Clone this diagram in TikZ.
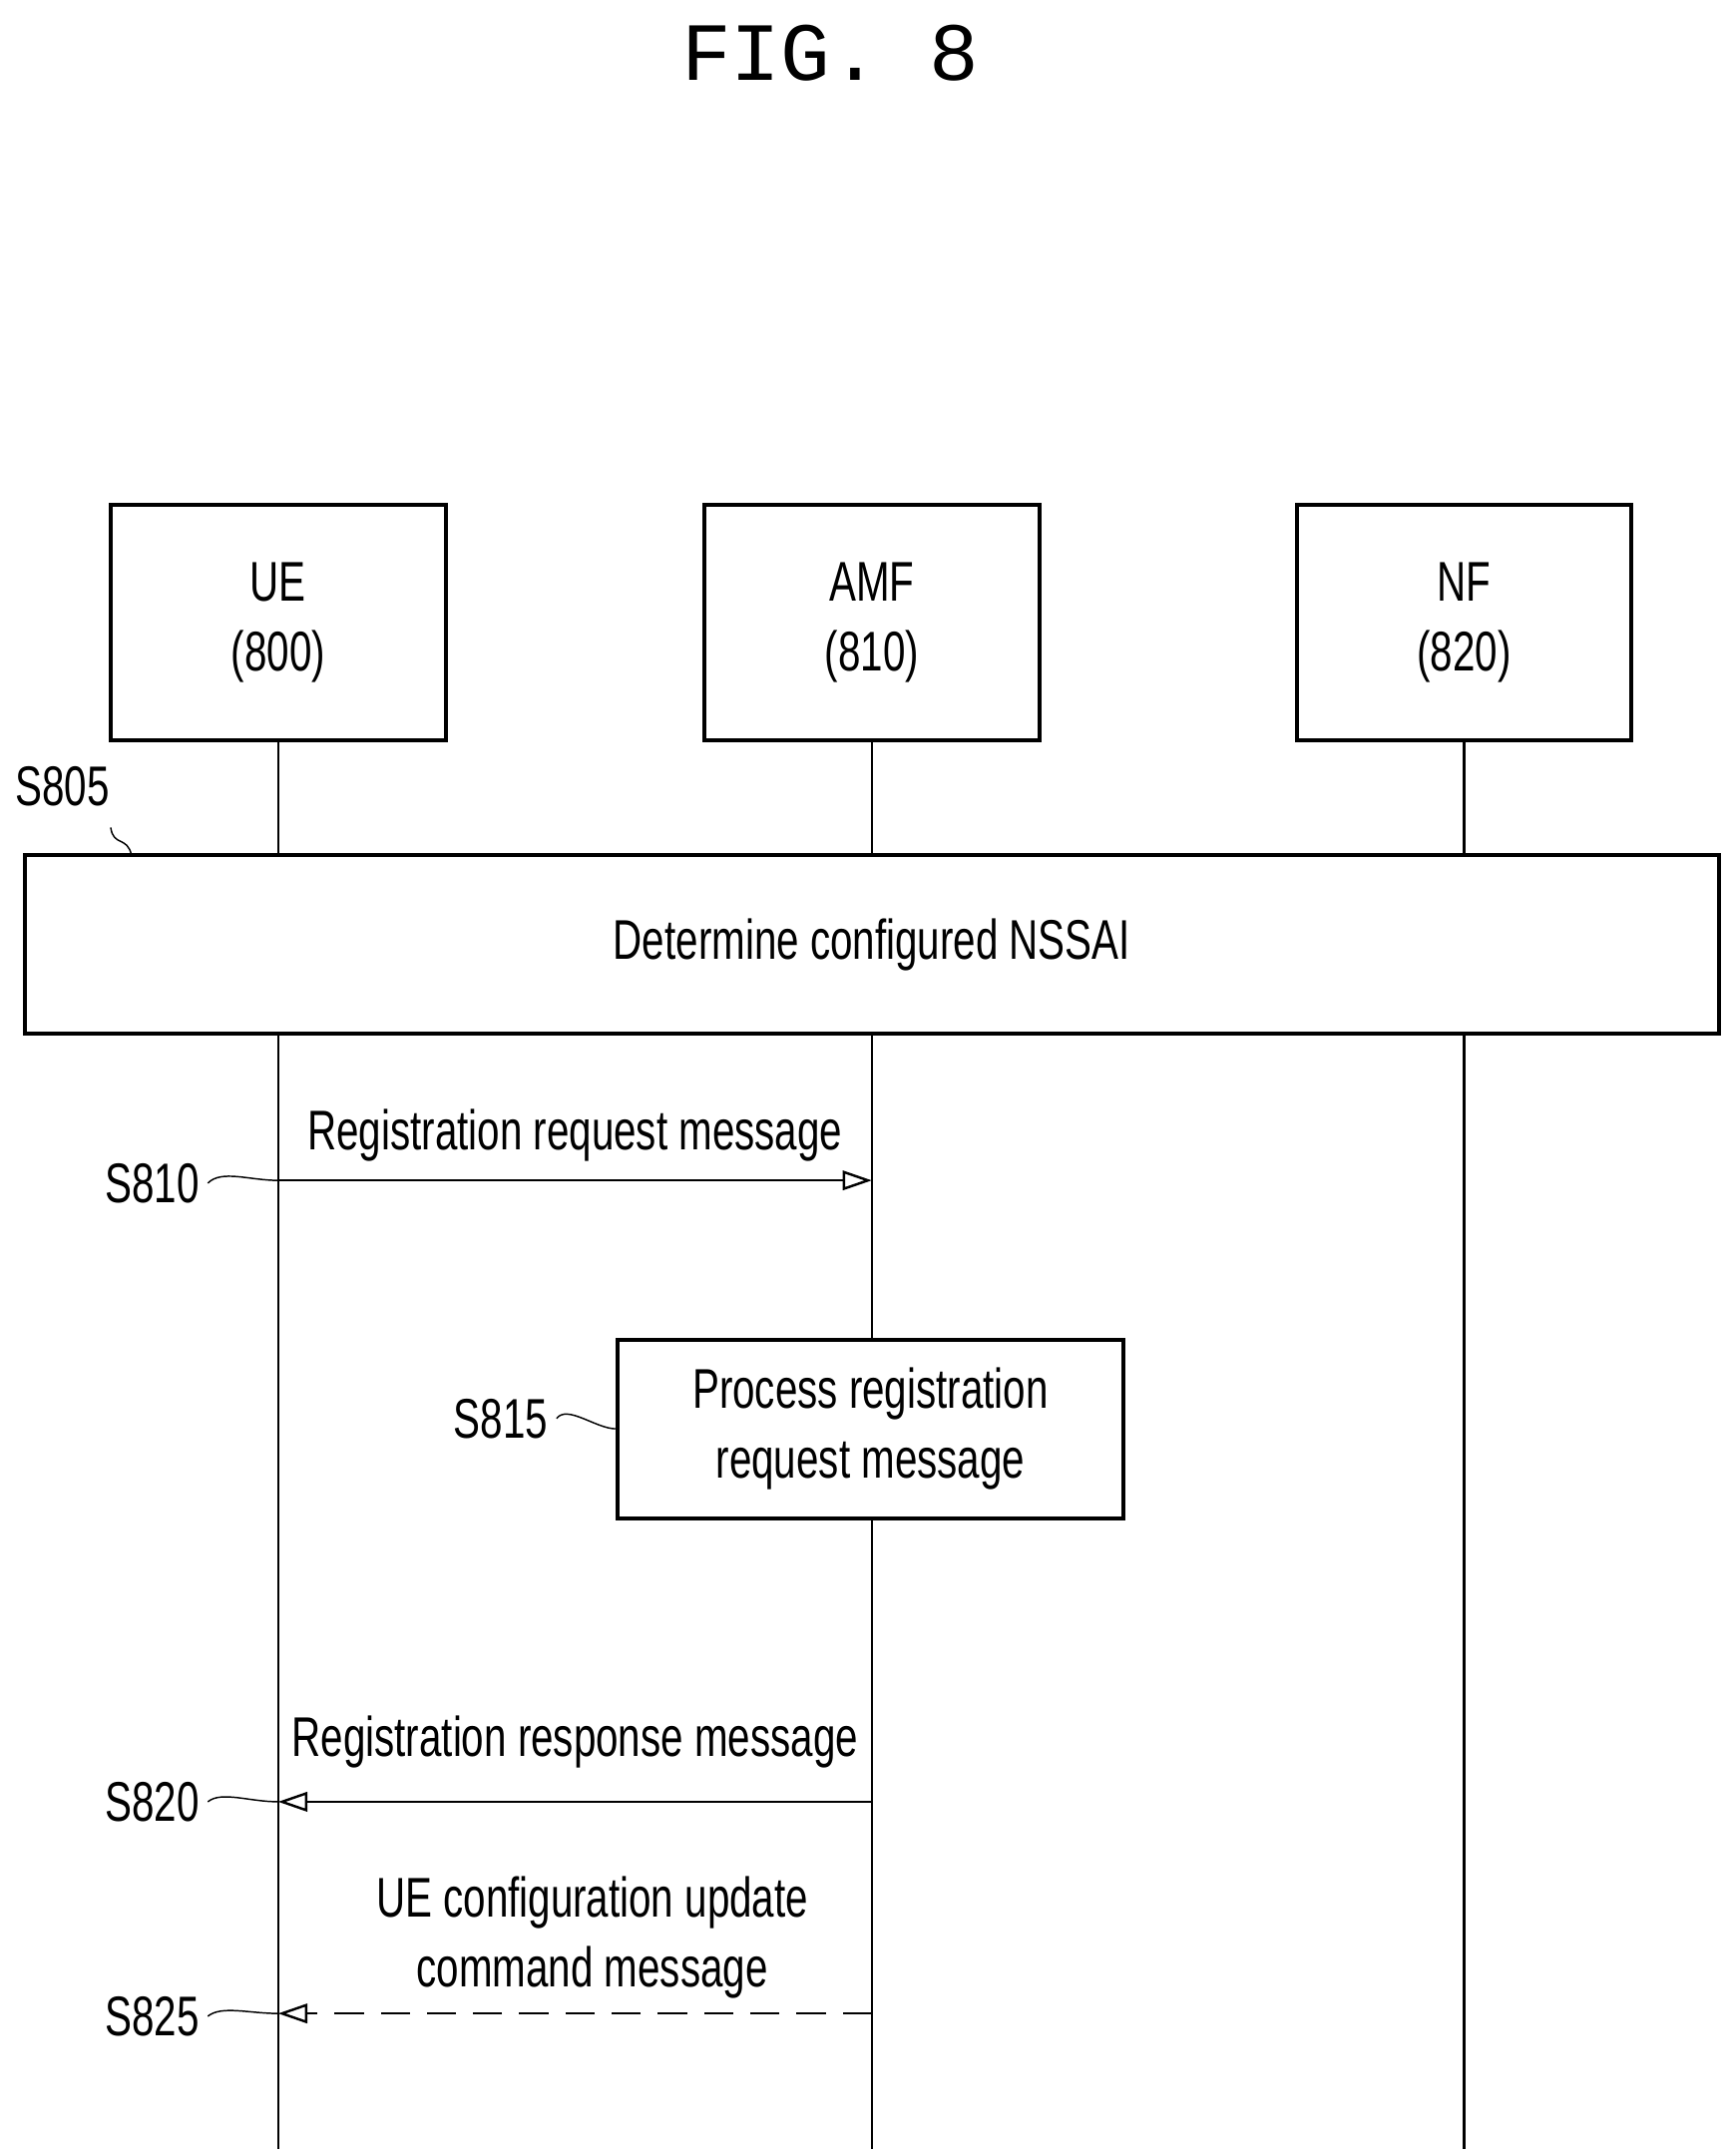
\documentclass[tikz,border=0pt]{standalone}
\usepackage{fontspec}
\setmainfont{Liberation Sans}[FakeStretch=0.72]
\newfontfamily\titlefont{Liberation Mono}
\usetikzlibrary{arrows.meta}
\begin{document}
\begin{tikzpicture}[x=0.02cm,y=-0.02cm,
  every node/.style={font=\fontsize{23}{29}\selectfont},
  ent/.style={draw,line width=1.6pt,minimum width=4.84cm,minimum height=3.4cm,align=center,inner sep=0},
  life/.style={line width=1pt},
  msg/.style={line width=1pt,-{Triangle[open,length=12pt,width=8pt]}},
  lbl/.style={font=\fontsize{23}{29}\selectfont},
  sq/.style={line width=0.6pt}]
\useasboundingbox (0,0) rectangle (1250,1558);
\node[font=\titlefont\fontsize{34}{40}\selectfont] (title) at (600,38) {FIG. 8};
\node[ent] (ue) at (201,450) {UE\\(800)};
\node[ent] (amf) at (630,450) {AMF\\(810)};
\node[ent] (nf) at (1058,450) {NF\\(820)};
\coordinate (ueb) at (201,1553);
\coordinate (amfb) at (630,1553);
\coordinate (nfb) at (1058,1553);
\draw[life] (ue.south) -- (ueb);
\draw[life] (amf.south) -- (amfb);
\draw[life] (nf.south) -- (nfb);
\node[draw,fill=white,line width=1.6pt,minimum width=24.48cm,minimum height=2.58cm] (s805) at (630,682.5) {Determine configured NSSAI};
\node[draw,fill=white,line width=1.6pt,minimum width=7.32cm,minimum height=2.58cm,align=center] (s815) at (629,1032.5) {Process registration\\request message};
% labels
\node[lbl] (l805) at (45,568) {S805};
\draw[sq] (80,598) .. controls (82,612) and (92,604) .. (95,618);
\node[lbl] (l810) at (110,855) {S810};
\node[lbl] (l815) at (362,1025) {S815};
\node[lbl] (l820) at (110,1302) {S820};
\node[lbl] (l825) at (110,1457) {S825};
\coordinate (a810) at (201,853);
\coordinate (b810) at (630,853);
\coordinate (a820) at (630,1302);
\coordinate (b820) at (201,1302);
\coordinate (a825) at (630,1455);
\coordinate (b825) at (201,1455);
\draw[sq] (l810.east) .. controls (160,845) and (180,853) .. (a810);
\draw[sq] (l815.east) .. controls (410,1015) and (430,1032) .. (s815.west);
\draw[sq] (l820.east) .. controls (160,1294) and (180,1302) .. (b820);
\draw[sq] (l825.east) .. controls (160,1449) and (180,1455) .. (b825);
\draw[msg] (a810) -- node[above=4pt] (t810) {Registration request message} (b810);
\draw[msg] (a820) -- node[above=10pt] (t820) {Registration response message} (b820);
\draw[msg,dash pattern=on 12pt off 7pt] (a825) -- (b825);
\node[align=center] (t825) at (428,1400) {UE configuration update\\command message};
\end{tikzpicture}
\end{document}
